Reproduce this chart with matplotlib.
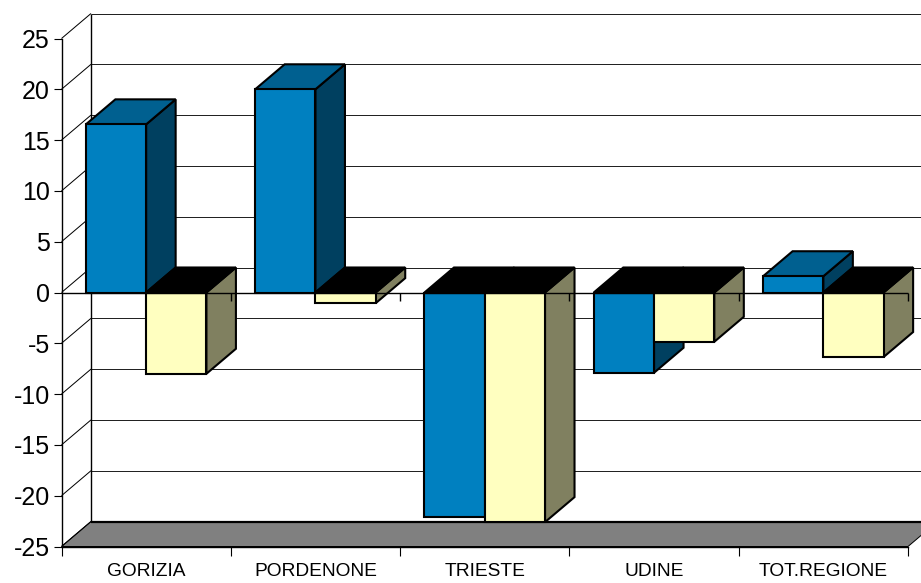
import matplotlib
matplotlib.use("Agg")
import matplotlib.pyplot as plt
from matplotlib.patches import Polygon

plt.rcParams['font.family'] = ['Liberation Sans', 'DejaVu Sans']

categories = ["GORIZIA", "PORDENONE", "TRIESTE", "UDINE", "TOT.REGIONE"]
series_blue = [16.55, 20.0, -22.1, -7.9, 1.6]
series_yellow = [-8.0, -1.05, -22.6, -4.85, -6.35]
y_ticks = list(range(-25, 30, 5))

W, H = 921, 583
L, R, T, B = 61.5, 908.0, 38.5, 546.5
fig = plt.figure(figsize=(W / 100, H / 100), dpi=100)
ax = fig.add_axes([L / W, 1 - B / H, (R - L) / W, (B - T) / H])
ax.set_xlim(0, 5)
ax.set_ylim(-25, 25)
ax.patch.set_visible(False)

DX = 29.5 / ((R - L) / 5)          # depth in category units
DY = 25.0 / ((B - T) / 50)         # depth in value units
BAR_W = 0.356
px = 0.72
edge = 1.5

def poly(pts, fc, z, lw=edge):
    ax.add_patch(Polygon(pts, closed=True, facecolor=fc, edgecolor='black',
                         linewidth=lw, zorder=z, clip_on=False, joinstyle='miter'))

def line(xs, ys, z=1, lw=px, c='black'):
    ax.plot(xs, ys, color=c, lw=lw, zorder=z, clip_on=False, solid_capstyle='butt')

# floor
poly([(0, -25), (5, -25), (5 + DX, -25 + DY), (DX, -25 + DY)], '#808080', 1, lw=px)
line([DX, 5 + DX], [-25 + DY, -25 + DY], z=1.5, lw=1.6)

# walls and gridlines
for v in y_ticks:
    line([0, DX], [v, v + DY])
    line([DX, 5 + DX], [v + DY, v + DY], c='#222222')
line([DX, DX], [-25 + DY, 25 + DY], lw=1.0)

def bar(x0, v, front, top, side, z):
    x1 = x0 + BAR_W
    hi, lo = max(v, 0), min(v, 0)
    poly([(x1, lo), (x1 + DX, lo + DY), (x1 + DX, hi + DY), (x1, hi)], side, z)
    poly([(x0, hi), (x0 + DX, hi + DY), (x1 + DX, hi + DY), (x1, hi)], top, z + 0.1)
    poly([(x0, lo), (x1, lo), (x1, hi), (x0, hi)], front, z + 0.2)

for i in range(len(categories)):
    x0 = i + 0.5 - BAR_W
    vb, vy = series_blue[i], series_yellow[i]
    bar(x0, vb, '#0080C0', '#006090' if vb > 0 else 'black', '#004060', 10 + 2 * i)
    bar(x0 + BAR_W, vy, '#FFFFC0', '#006090' if vy > 0 else 'black', '#808060', 11 + 2 * i)

# zero axis with its ticks, on top of the bars
line([0, 5], [0, 0], z=40, lw=1.0)
for k in range(1, 6):
    line([k, k], [0, -0.8], z=40, lw=1.0)

# axes
for s in ['top', 'right']:
    ax.spines[s].set_visible(False)
for s in ['left', 'bottom']:
    ax.spines[s].set_linewidth(1.0)
    ax.spines[s].set_zorder(41)
ax.set_yticks(y_ticks)
ax.set_yticklabels([str(v) for v in y_ticks], fontsize=18)
ax.tick_params(axis='y', length=5.8, width=0.8, pad=2.6, color='black')
ax.set_xticks(range(6))
ax.set_xticklabels([])
ax.tick_params(axis='x', which='major', length=6.2, width=0.8)
ax.set_xticks([i + 0.5 for i in range(5)], minor=True)
ax.set_xticklabels(categories, minor=True, fontsize=13.8)
ax.tick_params(axis='x', which='minor', length=0, pad=12)

fig.savefig('out.png', dpi=100)
